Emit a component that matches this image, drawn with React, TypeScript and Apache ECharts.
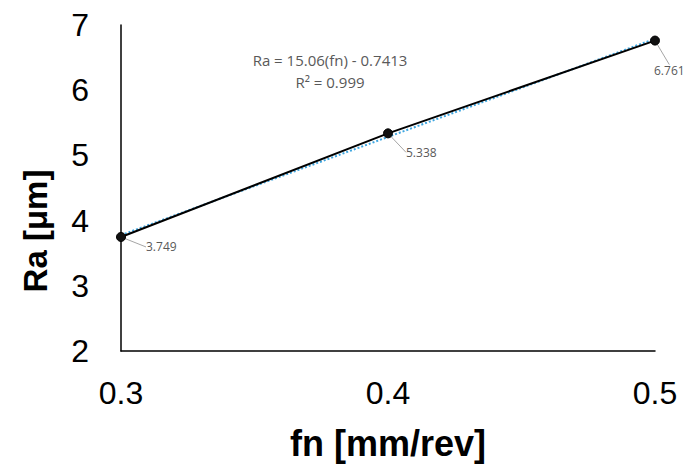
import React, { useEffect, useRef } from "react";
import * as echarts from "echarts";

const fnValues = [0.3, 0.4, 0.5];
const raValues = [3.749, 5.338, 6.761];
const trendX = [0.3, 0.5];
const trendY = [3.777, 6.789];
const labelOffsets = [
  [20, 10],
  [13, 19],
  [-6, 30],
];
const equationLines = ["Ra = 15.06(fn) - 0.7413", "R² = 0.999"];
const yAxisTitle = "Ra [μm]";
const xAxisTitle = "fn [mm/rev]";

export default function App() {
  const ref = useRef<HTMLDivElement>(null);
  useEffect(() => {
    const chart = echarts.init(ref.current!, null, { renderer: "svg" });
    chart.setOption({
      animation: false,
      backgroundColor: "#ffffff",
      grid: { left: 121, right: 29, top: 25, bottom: 112 },
      xAxis: {
        type: "value",
        min: 0.3,
        max: 0.5,
        interval: 0.1,
        name: xAxisTitle,
        nameLocation: "middle",
        nameGap: 74,
        nameTextStyle: { fontFamily: "Liberation Sans", fontSize: 36, fontWeight: "bold", color: "#000" },
        axisLine: { lineStyle: { color: "#000", width: 1.5 } },
        axisTick: { show: false },
        splitLine: { show: false },
        axisLabel: { fontFamily: "Liberation Sans", fontSize: 32, color: "#000", margin: 26, formatter: (v: number) => v.toFixed(1) },
      },
      yAxis: {
        type: "value",
        min: 2,
        max: 7,
        interval: 1,
        axisLine: { show: true, lineStyle: { color: "#000", width: 1.5 } },
        axisTick: { show: false },
        splitLine: { show: false },
        axisLabel: { fontFamily: "Liberation Sans", fontSize: 32, color: "#000", margin: 32 },
      },
      graphic: [
        ...equationLines.map((t, i) => ({
          type: "text",
          x: 330,
          y: 52 + i * 22,
          style: {
            text: t,
            fill: "#595959",
            font: "15px 'Open Sans'",
            align: "center",
            verticalAlign: "top",
          },
        })),
        {
          type: "text",
          x: 35,
          y: 231,
          rotation: Math.PI / 2,
          style: {
            text: yAxisTitle,
            fill: "#000",
            font: "bold 33px 'Liberation Sans'",
            align: "center",
            verticalAlign: "middle",
          },
        },
      ],
      series: [
        {
          type: "line",
          data: trendX.map((x, i) => [x, trendY[i]]),
          symbol: "none",
          lineStyle: { color: "#3ea6e0", width: 2, type: [2, 2] },
          z: 1,
        },
        {
          type: "line",
          data: fnValues.map((x, i) => [x, raValues[i]]),
          symbol: "circle",
          symbolSize: 9,
          itemStyle: { color: "#111", borderColor: "#000", borderWidth: 1 },
          lineStyle: { color: "#000", width: 2 },
          z: 2,
          label: {
            show: true,
            position: "right",
            distance: 0,
            fontFamily: "Open Sans",
            fontSize: 12,
            color: "#595959",
            formatter: (p: any) => p.value[1].toFixed(3),
          },
          labelLine: { show: true, lineStyle: { color: "#a6a6a6", width: 1 } },
          labelLayout: (p: any) => {
            const o = labelOffsets[p.dataIndex];
            return { dx: o[0], dy: o[1] };
          },
        },
      ],
    });
    return () => chart.dispose();
  }, []);
  return <div ref={ref} style={{ position: "fixed", left: 0, top: 0, width: 684, height: 466 }} />;
}
